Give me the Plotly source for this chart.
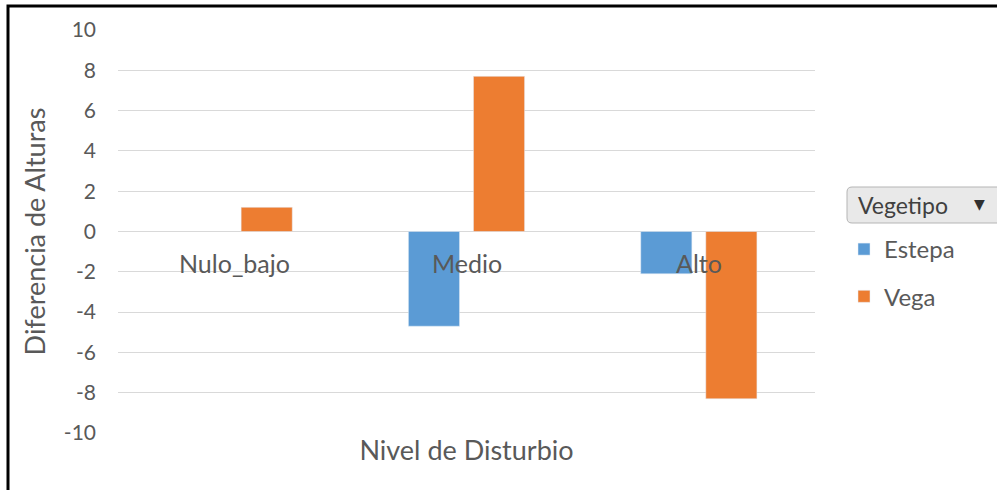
import plotly.graph_objects as go

categories = ["Nulo_bajo", "Medio", "Alto"]
estepa = [None, -4.7, -2.1]
vega = [1.2, 7.7, -8.3]
series_names = ["Estepa", "Vega"]
legend_title = "Vegetipo"
y_ticks = [-10, -8, -6, -4, -2, 0, 2, 4, 6, 8, 10]
y_tick_labels = [str(v) for v in y_ticks]

FONT = "Lato"
GREY = "#595959"

fig = go.Figure()
fig.add_trace(go.Bar(x=categories, y=estepa, name=series_names[0], marker_color="#5B9BD5",
                     width=0.22, offset=-0.25, legendgroup="a"))
fig.add_trace(go.Bar(x=categories, y=vega, name=series_names[1], marker_color="#ED7D31",
                     width=0.22, offset=0.03, legendgroup="b"))

for c in categories:
    fig.add_annotation(x=c, y=0, xref="x", yref="y", text=c, showarrow=False,
                       yshift=-31, font=dict(family=FONT, size=25, color=GREY))

# filter button (Excel pivot field button)
fig.add_shape(type="path", xref="paper", yref="paper", xsizemode="pixel", ysizemode="pixel",
              xanchor=0, yanchor=0,
              path="M 734,246 L 885,246 L 885,210 L 734,210 Q 729,210 729,215 L 729,241 Q 729,246 734,246 Z",
              fillcolor="#e9e9e9", line=dict(color="#b5b5b5", width=1), layer="below")
fig.add_annotation(xref="paper", yref="paper", x=(856 - 118) / 697, y=(433 - 205) / 403,
                   xanchor="left", yanchor="middle", text=legend_title, showarrow=False,
                   font=dict(family=FONT, size=23, color="#404040"))
fig.add_annotation(xref="paper", yref="paper", x=(979 - 118) / 697, y=(433 - 204) / 403,
                   xanchor="center", yanchor="middle", text="▼", showarrow=False,
                   font=dict(family="DejaVu Sans", size=14, color="#303030"))

# outer chart frame
fig.add_shape(type="rect", xref="paper", yref="paper",
              x0=(8 - 118) / 697, x1=(1010 - 118) / 697,
              y0=(433 - 510) / 403, y1=(433 - 6) / 403,
              line=dict(color="black", width=3), fillcolor="rgba(0,0,0,0)", layer="below")

fig.update_layout(
    width=997, height=490,
    margin=dict(l=118, r=182, t=30, b=57),
    paper_bgcolor="white", plot_bgcolor="white",
    barmode="overlay",
    font=dict(family=FONT, color=GREY, size=18),
    showlegend=True,
    legend=dict(x=(844 - 118) / 697, xanchor="left", y=(433 - 227) / 403, yanchor="top",
                font=dict(family=FONT, size=24, color=GREY), tracegroupgap=13,
                bgcolor="rgba(0,0,0,0)"),
    xaxis=dict(showticklabels=False, showgrid=False, zeroline=False, showline=False,
               title=dict(text="Nivel de Disturbio", standoff=8,
                          font=dict(family=FONT, size=27, color=GREY))),
    yaxis=dict(range=[-10, 10], tickvals=y_ticks, ticktext=y_tick_labels,
               showgrid=True, gridcolor="#d9d9d9", gridwidth=1,
               zeroline=True, zerolinecolor="#d9d9d9", zerolinewidth=1, showline=False,
               ticklabelstandoff=21,
               tickfont=dict(family=FONT, size=21, color=GREY),
               title=dict(text="Diferencia de Alturas", standoff=10,
                          font=dict(family=FONT, size=27, color=GREY))),
)

fig.write_html("out.html", config={"displayModeBar": False},
               post_script="document.body.style.margin='0';")
